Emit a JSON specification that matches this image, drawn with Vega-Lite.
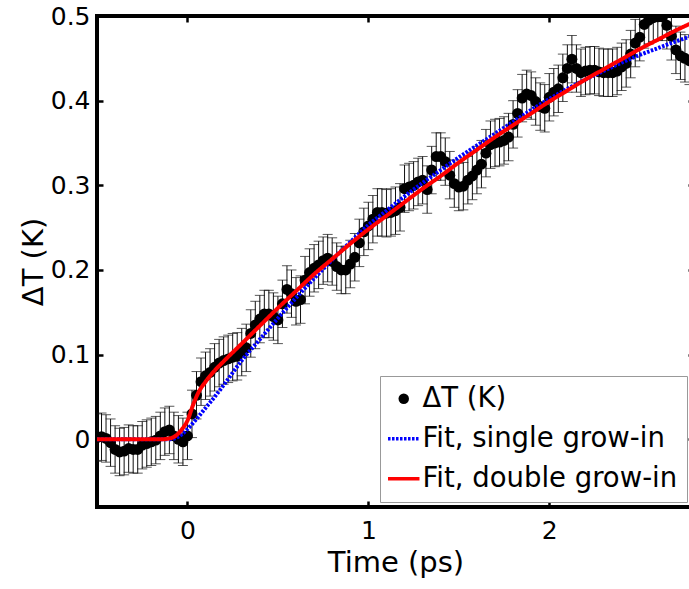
{
  "$schema": "https://vega.github.io/schema/vega-lite/v6.json",
  "width": 597,
  "height": 491,
  "autosize": {"type": "none"},
  "padding": {"left": 97, "top": 16, "right": 0, "bottom": 82},
  "background": "white",
  "config": {
    "view": {"stroke": "black", "strokeWidth": 4},
    "axis": {
      "labelFont": "DejaVu Sans", "titleFont": "DejaVu Sans",
      "labelFontSize": 25, "titleFontSize": 29, "titleFontWeight": "normal",
      "labelColor": "black", "titleColor": "black",
      "domain": false, "grid": false,
      "tickColor": "black", "tickWidth": 2.5, "tickSize": -6
    }
  },
  "datasets": {
    "pts": [
      {"x": -0.5, "y": 0.002, "err": 0.028, "series": "ΔT (K)"},
      {"x": -0.475, "y": 0.003, "err": 0.028, "series": "ΔT (K)"},
      {"x": -0.45, "y": 0.001, "err": 0.028, "series": "ΔT (K)"},
      {"x": -0.425, "y": -0.004, "err": 0.028, "series": "ΔT (K)"},
      {"x": -0.4, "y": -0.012, "err": 0.028, "series": "ΔT (K)"},
      {"x": -0.375, "y": -0.015, "err": 0.028, "series": "ΔT (K)"},
      {"x": -0.35, "y": -0.014, "err": 0.028, "series": "ΔT (K)"},
      {"x": -0.325, "y": -0.011, "err": 0.028, "series": "ΔT (K)"},
      {"x": -0.3, "y": -0.012, "err": 0.028, "series": "ΔT (K)"},
      {"x": -0.275, "y": -0.012, "err": 0.028, "series": "ΔT (K)"},
      {"x": -0.25, "y": -0.007, "err": 0.028, "series": "ΔT (K)"},
      {"x": -0.225, "y": -0.005, "err": 0.028, "series": "ΔT (K)"},
      {"x": -0.2, "y": -0.003, "err": 0.028, "series": "ΔT (K)"},
      {"x": -0.175, "y": -0.001, "err": 0.028, "series": "ΔT (K)"},
      {"x": -0.15, "y": 0.004, "err": 0.028, "series": "ΔT (K)"},
      {"x": -0.125, "y": 0.009, "err": 0.028, "series": "ΔT (K)"},
      {"x": -0.1, "y": 0.011, "err": 0.028, "series": "ΔT (K)"},
      {"x": -0.075, "y": 0.004, "err": 0.028, "series": "ΔT (K)"},
      {"x": -0.05, "y": 0.0, "err": 0.028, "series": "ΔT (K)"},
      {"x": -0.025, "y": -0.003, "err": 0.028, "series": "ΔT (K)"},
      {"x": 0.0, "y": 0.004, "err": 0.028, "series": "ΔT (K)"},
      {"x": 0.025, "y": 0.03, "err": 0.028, "series": "ΔT (K)"},
      {"x": 0.05, "y": 0.052, "err": 0.028, "series": "ΔT (K)"},
      {"x": 0.075, "y": 0.068, "err": 0.028, "series": "ΔT (K)"},
      {"x": 0.1, "y": 0.075, "err": 0.028, "series": "ΔT (K)"},
      {"x": 0.125, "y": 0.079, "err": 0.028, "series": "ΔT (K)"},
      {"x": 0.15, "y": 0.085, "err": 0.028, "series": "ΔT (K)"},
      {"x": 0.175, "y": 0.09, "err": 0.028, "series": "ΔT (K)"},
      {"x": 0.2, "y": 0.093, "err": 0.028, "series": "ΔT (K)"},
      {"x": 0.225, "y": 0.095, "err": 0.028, "series": "ΔT (K)"},
      {"x": 0.25, "y": 0.097, "err": 0.028, "series": "ΔT (K)"},
      {"x": 0.275, "y": 0.098, "err": 0.028, "series": "ΔT (K)"},
      {"x": 0.3, "y": 0.103, "err": 0.028, "series": "ΔT (K)"},
      {"x": 0.325, "y": 0.108, "err": 0.028, "series": "ΔT (K)"},
      {"x": 0.35, "y": 0.125, "err": 0.028, "series": "ΔT (K)"},
      {"x": 0.375, "y": 0.135, "err": 0.028, "series": "ΔT (K)"},
      {"x": 0.4, "y": 0.142, "err": 0.028, "series": "ΔT (K)"},
      {"x": 0.425, "y": 0.148, "err": 0.028, "series": "ΔT (K)"},
      {"x": 0.45, "y": 0.148, "err": 0.028, "series": "ΔT (K)"},
      {"x": 0.475, "y": 0.145, "err": 0.028, "series": "ΔT (K)"},
      {"x": 0.5, "y": 0.141, "err": 0.028, "series": "ΔT (K)"},
      {"x": 0.525, "y": 0.16, "err": 0.028, "series": "ΔT (K)"},
      {"x": 0.55, "y": 0.177, "err": 0.028, "series": "ΔT (K)"},
      {"x": 0.575, "y": 0.172, "err": 0.028, "series": "ΔT (K)"},
      {"x": 0.6, "y": 0.163, "err": 0.028, "series": "ΔT (K)"},
      {"x": 0.625, "y": 0.165, "err": 0.028, "series": "ΔT (K)"},
      {"x": 0.65, "y": 0.188, "err": 0.028, "series": "ΔT (K)"},
      {"x": 0.675, "y": 0.197, "err": 0.028, "series": "ΔT (K)"},
      {"x": 0.7, "y": 0.202, "err": 0.028, "series": "ΔT (K)"},
      {"x": 0.725, "y": 0.206, "err": 0.028, "series": "ΔT (K)"},
      {"x": 0.75, "y": 0.211, "err": 0.028, "series": "ΔT (K)"},
      {"x": 0.775, "y": 0.214, "err": 0.028, "series": "ΔT (K)"},
      {"x": 0.8, "y": 0.21, "err": 0.028, "series": "ΔT (K)"},
      {"x": 0.825, "y": 0.204, "err": 0.028, "series": "ΔT (K)"},
      {"x": 0.85, "y": 0.2, "err": 0.028, "series": "ΔT (K)"},
      {"x": 0.875, "y": 0.2, "err": 0.028, "series": "ΔT (K)"},
      {"x": 0.9, "y": 0.207, "err": 0.028, "series": "ΔT (K)"},
      {"x": 0.925, "y": 0.215, "err": 0.028, "series": "ΔT (K)"},
      {"x": 0.95, "y": 0.232, "err": 0.028, "series": "ΔT (K)"},
      {"x": 0.975, "y": 0.245, "err": 0.028, "series": "ΔT (K)"},
      {"x": 1.0, "y": 0.252, "err": 0.028, "series": "ΔT (K)"},
      {"x": 1.025, "y": 0.26, "err": 0.028, "series": "ΔT (K)"},
      {"x": 1.05, "y": 0.268, "err": 0.028, "series": "ΔT (K)"},
      {"x": 1.075, "y": 0.268, "err": 0.028, "series": "ΔT (K)"},
      {"x": 1.1, "y": 0.267, "err": 0.028, "series": "ΔT (K)"},
      {"x": 1.125, "y": 0.268, "err": 0.028, "series": "ΔT (K)"},
      {"x": 1.15, "y": 0.27, "err": 0.028, "series": "ΔT (K)"},
      {"x": 1.175, "y": 0.274, "err": 0.028, "series": "ΔT (K)"},
      {"x": 1.2, "y": 0.296, "err": 0.028, "series": "ΔT (K)"},
      {"x": 1.225, "y": 0.298, "err": 0.028, "series": "ΔT (K)"},
      {"x": 1.25, "y": 0.3, "err": 0.028, "series": "ΔT (K)"},
      {"x": 1.275, "y": 0.304, "err": 0.028, "series": "ΔT (K)"},
      {"x": 1.3, "y": 0.306, "err": 0.028, "series": "ΔT (K)"},
      {"x": 1.325, "y": 0.295, "err": 0.028, "series": "ΔT (K)"},
      {"x": 1.35, "y": 0.318, "err": 0.028, "series": "ΔT (K)"},
      {"x": 1.375, "y": 0.334, "err": 0.028, "series": "ΔT (K)"},
      {"x": 1.4, "y": 0.334, "err": 0.028, "series": "ΔT (K)"},
      {"x": 1.425, "y": 0.328, "err": 0.028, "series": "ΔT (K)"},
      {"x": 1.45, "y": 0.312, "err": 0.028, "series": "ΔT (K)"},
      {"x": 1.475, "y": 0.302, "err": 0.028, "series": "ΔT (K)"},
      {"x": 1.5, "y": 0.298, "err": 0.028, "series": "ΔT (K)"},
      {"x": 1.525, "y": 0.299, "err": 0.028, "series": "ΔT (K)"},
      {"x": 1.55, "y": 0.306, "err": 0.028, "series": "ΔT (K)"},
      {"x": 1.575, "y": 0.311, "err": 0.028, "series": "ΔT (K)"},
      {"x": 1.6, "y": 0.318, "err": 0.028, "series": "ΔT (K)"},
      {"x": 1.625, "y": 0.325, "err": 0.028, "series": "ΔT (K)"},
      {"x": 1.65, "y": 0.338, "err": 0.028, "series": "ΔT (K)"},
      {"x": 1.675, "y": 0.348, "err": 0.028, "series": "ΔT (K)"},
      {"x": 1.7, "y": 0.35, "err": 0.028, "series": "ΔT (K)"},
      {"x": 1.725, "y": 0.351, "err": 0.028, "series": "ΔT (K)"},
      {"x": 1.75, "y": 0.353, "err": 0.028, "series": "ΔT (K)"},
      {"x": 1.775, "y": 0.357, "err": 0.028, "series": "ΔT (K)"},
      {"x": 1.8, "y": 0.372, "err": 0.028, "series": "ΔT (K)"},
      {"x": 1.825, "y": 0.385, "err": 0.028, "series": "ΔT (K)"},
      {"x": 1.85, "y": 0.403, "err": 0.028, "series": "ΔT (K)"},
      {"x": 1.875, "y": 0.408, "err": 0.028, "series": "ΔT (K)"},
      {"x": 1.9, "y": 0.406, "err": 0.028, "series": "ΔT (K)"},
      {"x": 1.925, "y": 0.399, "err": 0.028, "series": "ΔT (K)"},
      {"x": 1.95, "y": 0.393, "err": 0.028, "series": "ΔT (K)"},
      {"x": 1.975, "y": 0.391, "err": 0.028, "series": "ΔT (K)"},
      {"x": 2.0, "y": 0.404, "err": 0.028, "series": "ΔT (K)"},
      {"x": 2.025, "y": 0.41, "err": 0.028, "series": "ΔT (K)"},
      {"x": 2.05, "y": 0.414, "err": 0.028, "series": "ΔT (K)"},
      {"x": 2.075, "y": 0.427, "err": 0.028, "series": "ΔT (K)"},
      {"x": 2.1, "y": 0.438, "err": 0.028, "series": "ΔT (K)"},
      {"x": 2.125, "y": 0.449, "err": 0.028, "series": "ΔT (K)"},
      {"x": 2.15, "y": 0.438, "err": 0.028, "series": "ΔT (K)"},
      {"x": 2.175, "y": 0.433, "err": 0.028, "series": "ΔT (K)"},
      {"x": 2.2, "y": 0.435, "err": 0.028, "series": "ΔT (K)"},
      {"x": 2.225, "y": 0.436, "err": 0.028, "series": "ΔT (K)"},
      {"x": 2.25, "y": 0.436, "err": 0.028, "series": "ΔT (K)"},
      {"x": 2.275, "y": 0.434, "err": 0.028, "series": "ΔT (K)"},
      {"x": 2.3, "y": 0.433, "err": 0.028, "series": "ΔT (K)"},
      {"x": 2.325, "y": 0.433, "err": 0.028, "series": "ΔT (K)"},
      {"x": 2.35, "y": 0.433, "err": 0.028, "series": "ΔT (K)"},
      {"x": 2.375, "y": 0.435, "err": 0.028, "series": "ΔT (K)"},
      {"x": 2.4, "y": 0.44, "err": 0.028, "series": "ΔT (K)"},
      {"x": 2.425, "y": 0.444, "err": 0.028, "series": "ΔT (K)"},
      {"x": 2.45, "y": 0.455, "err": 0.028, "series": "ΔT (K)"},
      {"x": 2.475, "y": 0.468, "err": 0.028, "series": "ΔT (K)"},
      {"x": 2.5, "y": 0.475, "err": 0.028, "series": "ΔT (K)"},
      {"x": 2.525, "y": 0.49, "err": 0.028, "series": "ΔT (K)"},
      {"x": 2.55, "y": 0.495, "err": 0.028, "series": "ΔT (K)"},
      {"x": 2.575, "y": 0.498, "err": 0.028, "series": "ΔT (K)"},
      {"x": 2.6, "y": 0.499, "err": 0.028, "series": "ΔT (K)"},
      {"x": 2.625, "y": 0.499, "err": 0.028, "series": "ΔT (K)"},
      {"x": 2.65, "y": 0.489, "err": 0.028, "series": "ΔT (K)"},
      {"x": 2.675, "y": 0.476, "err": 0.028, "series": "ΔT (K)"},
      {"x": 2.7, "y": 0.46, "err": 0.028, "series": "ΔT (K)"},
      {"x": 2.725, "y": 0.453, "err": 0.028, "series": "ΔT (K)"},
      {"x": 2.75, "y": 0.45, "err": 0.028, "series": "ΔT (K)"},
      {"x": 2.775, "y": 0.447, "err": 0.028, "series": "ΔT (K)"}
    ],
    "single": [
      {"x": -0.5, "y": 0.0, "series": "Fit, single grow-in"},
      {"x": -0.1, "y": 0.0, "series": "Fit, single grow-in"},
      {"x": -0.06, "y": 0.002, "series": "Fit, single grow-in"},
      {"x": -0.03, "y": 0.006, "series": "Fit, single grow-in"},
      {"x": 0.0, "y": 0.012, "series": "Fit, single grow-in"},
      {"x": 0.05, "y": 0.024, "series": "Fit, single grow-in"},
      {"x": 0.1, "y": 0.037, "series": "Fit, single grow-in"},
      {"x": 0.15, "y": 0.05, "series": "Fit, single grow-in"},
      {"x": 0.2, "y": 0.064, "series": "Fit, single grow-in"},
      {"x": 0.3, "y": 0.093, "series": "Fit, single grow-in"},
      {"x": 0.4, "y": 0.118, "series": "Fit, single grow-in"},
      {"x": 0.5, "y": 0.143, "series": "Fit, single grow-in"},
      {"x": 0.6, "y": 0.167, "series": "Fit, single grow-in"},
      {"x": 0.7, "y": 0.19, "series": "Fit, single grow-in"},
      {"x": 0.8, "y": 0.212, "series": "Fit, single grow-in"},
      {"x": 0.9, "y": 0.233, "series": "Fit, single grow-in"},
      {"x": 1.0, "y": 0.253, "series": "Fit, single grow-in"},
      {"x": 1.1, "y": 0.27, "series": "Fit, single grow-in"},
      {"x": 1.2, "y": 0.287, "series": "Fit, single grow-in"},
      {"x": 1.3, "y": 0.303, "series": "Fit, single grow-in"},
      {"x": 1.4, "y": 0.318, "series": "Fit, single grow-in"},
      {"x": 1.5, "y": 0.333, "series": "Fit, single grow-in"},
      {"x": 1.6, "y": 0.347, "series": "Fit, single grow-in"},
      {"x": 1.7, "y": 0.361, "series": "Fit, single grow-in"},
      {"x": 1.8, "y": 0.375, "series": "Fit, single grow-in"},
      {"x": 1.9, "y": 0.389, "series": "Fit, single grow-in"},
      {"x": 2.0, "y": 0.402, "series": "Fit, single grow-in"},
      {"x": 2.1, "y": 0.414, "series": "Fit, single grow-in"},
      {"x": 2.2, "y": 0.425, "series": "Fit, single grow-in"},
      {"x": 2.3, "y": 0.435, "series": "Fit, single grow-in"},
      {"x": 2.4, "y": 0.445, "series": "Fit, single grow-in"},
      {"x": 2.5, "y": 0.454, "series": "Fit, single grow-in"},
      {"x": 2.6, "y": 0.462, "series": "Fit, single grow-in"},
      {"x": 2.7, "y": 0.47, "series": "Fit, single grow-in"},
      {"x": 2.8, "y": 0.477, "series": "Fit, single grow-in"}
    ],
    "double": [
      {"x": -0.5, "y": 0.0, "series": "Fit, double grow-in"},
      {"x": -0.15, "y": 0.0, "series": "Fit, double grow-in"},
      {"x": -0.1, "y": 0.001, "series": "Fit, double grow-in"},
      {"x": -0.06, "y": 0.005, "series": "Fit, double grow-in"},
      {"x": -0.03, "y": 0.012, "series": "Fit, double grow-in"},
      {"x": 0.0, "y": 0.022, "series": "Fit, double grow-in"},
      {"x": 0.03, "y": 0.04, "series": "Fit, double grow-in"},
      {"x": 0.06, "y": 0.055, "series": "Fit, double grow-in"},
      {"x": 0.1, "y": 0.068, "series": "Fit, double grow-in"},
      {"x": 0.15, "y": 0.081, "series": "Fit, double grow-in"},
      {"x": 0.2, "y": 0.092, "series": "Fit, double grow-in"},
      {"x": 0.3, "y": 0.113, "series": "Fit, double grow-in"},
      {"x": 0.4, "y": 0.134, "series": "Fit, double grow-in"},
      {"x": 0.5, "y": 0.155, "series": "Fit, double grow-in"},
      {"x": 0.6, "y": 0.175, "series": "Fit, double grow-in"},
      {"x": 0.7, "y": 0.195, "series": "Fit, double grow-in"},
      {"x": 0.8, "y": 0.213, "series": "Fit, double grow-in"},
      {"x": 0.9, "y": 0.231, "series": "Fit, double grow-in"},
      {"x": 1.0, "y": 0.248, "series": "Fit, double grow-in"},
      {"x": 1.1, "y": 0.264, "series": "Fit, double grow-in"},
      {"x": 1.2, "y": 0.28, "series": "Fit, double grow-in"},
      {"x": 1.3, "y": 0.296, "series": "Fit, double grow-in"},
      {"x": 1.4, "y": 0.311, "series": "Fit, double grow-in"},
      {"x": 1.5, "y": 0.327, "series": "Fit, double grow-in"},
      {"x": 1.6, "y": 0.342, "series": "Fit, double grow-in"},
      {"x": 1.7, "y": 0.357, "series": "Fit, double grow-in"},
      {"x": 1.8, "y": 0.371, "series": "Fit, double grow-in"},
      {"x": 1.9, "y": 0.385, "series": "Fit, double grow-in"},
      {"x": 2.0, "y": 0.399, "series": "Fit, double grow-in"},
      {"x": 2.1, "y": 0.412, "series": "Fit, double grow-in"},
      {"x": 2.2, "y": 0.425, "series": "Fit, double grow-in"},
      {"x": 2.3, "y": 0.437, "series": "Fit, double grow-in"},
      {"x": 2.4, "y": 0.449, "series": "Fit, double grow-in"},
      {"x": 2.5, "y": 0.461, "series": "Fit, double grow-in"},
      {"x": 2.6, "y": 0.472, "series": "Fit, double grow-in"},
      {"x": 2.7, "y": 0.483, "series": "Fit, double grow-in"},
      {"x": 2.8, "y": 0.493, "series": "Fit, double grow-in"}
    ]
  },
  "layer": [
    {
      "data": {"name": "pts"},
      "mark": {"type": "errorbar", "ticks": {"size": 10}, "color": "#111111", "thickness": 1, "clip": true},
      "encoding": {
        "x": {"field": "x", "type": "quantitative",
              "scale": {"domain": [-0.5, 2.8], "nice": false, "zero": false},
              "axis": {"orient": "bottom", "values": [0, 1, 2], "format": "d", "title": "Time (ps)", "labelPadding": 17, "titlePadding": 5}},
        "y": {"field": "y", "type": "quantitative",
              "scale": {"domain": [-0.08, 0.5], "nice": false, "zero": false},
              "axis": {"orient": "left", "values": [0, 0.1, 0.2, 0.3, 0.4, 0.5], "format": "~g", "title": "ΔT (K)", "labelPadding": 13, "titlePadding": 2}},
        "yError": {"field": "err"}
      }
    },
    {
      "data": {"name": "pts"},
      "mark": {"type": "point", "filled": true, "opacity": 1, "size": 120, "clip": true},
      "encoding": {
        "x": {"field": "x", "type": "quantitative",
              "axis": {"orient": "top", "values": [0, 1, 2], "labels": false, "title": null}},
        "y": {"field": "y", "type": "quantitative",
              "axis": {"orient": "right", "values": [0, 0.1, 0.2, 0.3, 0.4, 0.5], "labels": false, "title": null}},
        "fill": {"field": "series", "type": "nominal",
                 "scale": {"domain": ["ΔT (K)", "Fit, single grow-in", "Fit, double grow-in"], "range": ["black", "transparent", "transparent"]},
                 "legend": {
                   "title": null, "orient": "none", "legendX": 283, "legendY": 360,
                   "labelFont": "DejaVu Sans", "labelFontSize": 27.5, "labelColor": "black",
                   "strokeColor": "#999999", "fillColor": "white", "padding": 9,
                   "rowPadding": 11, "labelOffset": 5, "symbolOffset": 1, "symbolSize": 110,
                   "symbolStrokeWidth": 3.5, "symbolOpacity": 1, "labelLimit": 400
                 }},
        "shape": {"field": "series", "type": "nominal",
                  "scale": {"domain": ["ΔT (K)", "Fit, single grow-in", "Fit, double grow-in"], "range": ["circle", "M-3,0H3", "M-3,0H3"]}}
      }
    },
    {
      "data": {"name": "single"},
      "mark": {"type": "line", "strokeWidth": 4, "interpolate": "monotone", "clip": true},
      "encoding": {
        "x": {"field": "x", "type": "quantitative", "axis": null},
        "y": {"field": "y", "type": "quantitative", "axis": null},
        "stroke": {"field": "series", "type": "nominal",
                   "scale": {"domain": ["ΔT (K)", "Fit, single grow-in", "Fit, double grow-in"], "range": ["transparent", "blue", "red"]}},
        "strokeDash": {"field": "series", "type": "nominal",
                       "scale": {"domain": ["ΔT (K)", "Fit, single grow-in", "Fit, double grow-in"], "range": [[1, 0], [2.5, 1.5], [1, 0]]}}
      }
    },
    {
      "data": {"name": "double"},
      "mark": {"type": "line", "strokeWidth": 4, "interpolate": "monotone", "clip": true},
      "encoding": {
        "x": {"field": "x", "type": "quantitative", "axis": null},
        "y": {"field": "y", "type": "quantitative", "axis": null},
        "stroke": {"field": "series", "type": "nominal"},
        "strokeDash": {"field": "series", "type": "nominal"}
      }
    }
  ],
  "resolve": {"axis": {"x": "independent", "y": "independent"}}
}
